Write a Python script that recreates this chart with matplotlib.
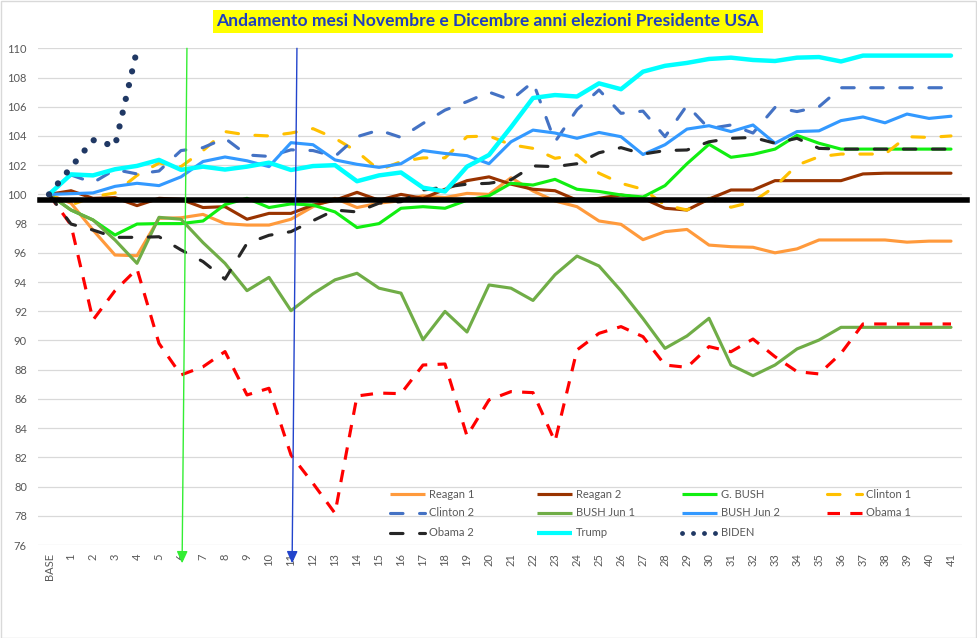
import matplotlib
matplotlib.use('Agg')
import matplotlib.pyplot as plt
from matplotlib.lines import Line2D
from matplotlib.patches import Rectangle
import numpy as np

# ---------------- data ----------------
categories = ['BASE'] + [str(i) for i in range(1, 42)]

reagan1 = [100, 99.4, 97.56, 95.85, 95.8, 98.36, 98.4, 98.63, 98.0, 97.9, 97.9, 98.3, 99.16, 99.73,
           99.1, 99.4, 99.57, 99.9, 99.78, 100.07, 100.0, 101.14, 100.23, 99.55, 99.16, 98.18, 97.95,
           96.9, 97.45, 97.6, 96.53, 96.42, 96.38, 96.0, 96.27, 96.88, 96.88, 96.88, 96.88, 96.73,
           96.8, 96.8]
reagan2 = [100, 100.25, 99.73, 99.78, 99.23, 99.73, 99.66, 99.1, 99.16, 98.3, 98.7, 98.7, 99.27, 99.6,
           100.14, 99.6, 100.0, 99.73, 100.35, 100.94, 101.2, 100.7, 100.35, 100.25, 99.6, 99.73,
           99.96, 99.73, 99.05, 98.93, 99.68, 100.3, 100.3, 100.94, 100.94, 100.94, 100.94, 101.4,
           101.45, 101.45, 101.45, 101.45]
g_bush = [100, 98.93, 98.25, 97.22, 97.97, 98.0, 98.0, 98.18, 99.3, 99.73, 99.1, 99.35, 99.27, 98.8,
          97.73, 98.0, 99.05, 99.16, 99.05, 99.6, 99.9, 100.76, 100.64, 101.03, 100.35, 100.2, 99.96,
          99.82, 100.6, 102.1, 103.43, 102.54, 102.74, 103.1, 104.04, 103.5, 103.1, 103.1, 103.1,
          103.1, 103.1, 103.1]
clinton1 = [100, 99.27, 99.84, 100.1, 101.3, 102.15, 101.9, 103.0, 104.3, 104.07, 104.0, 104.2, 104.5,
            103.84, 102.93, 101.67, 102.24, 102.5, 102.5, 103.95, 104.0, 103.4, 103.15, 102.47, 102.7,
            101.45, 100.76, 100.35, 99.27, 98.93, 99.73, 99.12, 99.5, 100.53, 102.0, 102.58, 102.76,
            102.76, 102.76, 103.95, 103.9, 104.0]
clinton2 = [100, 101.33, 100.8, 101.7, 101.4, 101.6, 103.0, 103.2, 103.84, 102.7, 102.6, 103.05, 103.0,
            102.6, 103.95, 104.4, 103.9, 104.86, 105.77, 106.35, 107.0, 106.46, 107.7, 103.6, 105.8,
            107.15, 105.55, 105.7, 103.95, 106.1, 104.5, 104.75, 104.2, 105.95, 105.67, 106.0, 107.3,
            107.3, 107.3, 107.3, 107.3, 107.3]
bush_jun1 = [100, 98.93, 98.25, 96.88, 95.28, 98.43, 98.3, 96.7, 95.28, 93.41, 94.32, 92.04, 93.2,
             94.15, 94.6, 93.58, 93.24, 90.05, 91.99, 90.58, 93.8, 93.58, 92.74, 94.5, 95.78, 95.1,
             93.4, 91.5, 89.46, 90.31, 91.52, 88.32, 87.59, 88.32, 89.42, 90.03, 90.9, 90.9, 90.9,
             90.9, 90.9, 90.9]
bush_jun2 = [100, 100.05, 100.1, 100.55, 100.76, 100.6, 101.2, 102.25, 102.56, 102.3, 101.9, 103.54,
             103.4, 102.36, 102.06, 101.85, 102.1, 103.0, 102.8, 102.65, 102.1, 103.6, 104.4, 104.2,
             103.84, 104.24, 103.95, 102.73, 103.4, 104.47, 104.7, 104.3, 104.75, 103.5, 104.3,
             104.35, 105.05, 105.3, 104.9, 105.5, 105.2, 105.35]
obama1 = [100, 97.9, 91.4, 93.41, 94.9, 89.8, 87.64, 88.2, 89.24, 86.27, 86.73, 82.16, 80.22, 78.17,
          86.2, 86.4, 86.36, 88.32, 88.39, 83.46, 85.93, 86.5, 86.43, 83.08, 89.35, 90.49, 90.95,
          90.26, 88.32, 88.16, 89.58, 89.23, 90.1, 88.89, 87.87, 87.71, 89.12, 91.13, 91.13, 91.13,
          91.13, 91.13]
obama2 = [100, 97.97, 97.56, 97.06, 97.06, 97.1, 96.2, 95.4, 94.2, 96.65, 97.2, 97.45, 98.2, 98.93,
          98.8, 99.4, 99.5, 100.3, 100.5, 100.7, 100.76, 101.0, 101.95, 101.9, 102.1, 102.85, 103.2,
          102.76, 103.0, 103.04, 103.6, 103.84, 103.9, 103.5, 103.84, 103.15, 103.1, 103.1, 103.1,
          103.1, 103.1, 103.1]
trump = [100, 101.37, 101.3, 101.72, 101.95, 102.36, 101.68, 101.9, 101.7, 101.9, 102.17, 101.67,
         101.94, 102.0, 100.9, 101.3, 101.5, 100.46, 100.2, 101.9, 102.7, 104.6, 106.6, 106.8, 106.7,
         107.6, 107.2, 108.4, 108.8, 109.0, 109.27, 109.36, 109.2, 109.13, 109.36, 109.4, 109.1,
         109.5, 109.5, 109.5, 109.5, 109.5]
biden = [100, 101.85, 103.72, 103.3, 109.9]

threshold = 99.6
green_arrow_cat = 6
blue_arrow_cat = 11
title = 'Andamento mesi Novembre e Dicembre anni elezioni Presidente USA'

# ---------------- styles ----------------
DASH = (0, (4, 5.3))
SHORTDASH = (0, (4, 3.3))
DOT = (0, (0.01, 2.25))
series = [
    ('Reagan 1', reagan1, '#FF9A3C', 2.25, '-', 'round'),
    ('Reagan 2', reagan2, '#993300', 2.25, '-', 'round'),
    ('G. BUSH', g_bush, '#11EE11', 2.25, '-', 'round'),
    ('Clinton 1', clinton1, '#FFC000', 2.25, DASH, 'round'),
    ('Clinton 2', clinton2, '#4472C4', 2.25, DASH, 'round'),
    ('BUSH Jun 1', bush_jun1, '#70AD47', 2.25, '-', 'round'),
    ('BUSH Jun 2', bush_jun2, '#3399FF', 2.25, '-', 'round'),
    ('Obama 1', obama1, '#FF0000', 2.25, SHORTDASH, 'butt'),
    ('Obama 2', obama2, '#262626', 2.25, DASH, 'round'),
    ('Trump', trump, '#00FFFF', 3.2, '-', 'round'),
    ('BIDEN', biden, '#203864', 4.5, DOT, 'round'),
]

W, H = 977, 638
fig = plt.figure(figsize=(W / 100, H / 100), dpi=100)
fig.patch.set_facecolor('white')
ax = fig.add_axes([38 / W, 1 - 545 / H, 924 / W, (545 - 48.3) / H])

x = np.arange(len(categories))
for name, vals, color, lw, ls, cap in series:
    ax.plot(x[:len(vals)], vals, color=color, lw=lw, linestyle=ls,
            dash_capstyle=cap, solid_capstyle='round', solid_joinstyle='round',
            dash_joinstyle='round', zorder=3)

ax.axhline(threshold, xmin=0.002, xmax=1.0054, color='black', lw=4.0, zorder=5, clip_on=False)

ax.set_xlim(-0.5, len(categories) - 0.5)
ax.set_ylim(76, 110)
ax.set_yticks(np.arange(76, 111, 2))
ax.set_xticks(x)
ax.set_xticklabels(categories, rotation=90, va='top', ha='center')
ax.yaxis.grid(True, color='#D9D9D9', lw=0.9, zorder=0)
ax.set_axisbelow(True)
for s in ax.spines.values():
    s.set_visible(False)
ax.tick_params(axis='both', length=0, labelcolor='#595959', labelsize=8)
ax.tick_params(axis='y', pad=8)
ax.tick_params(axis='x', pad=6)
for lab in ax.get_xticklabels() + ax.get_yticklabels():
    lab.set_family('Lato')

# arrows
ax.annotate('', xy=(green_arrow_cat + 0.05, 74.75), xytext=(green_arrow_cat + 0.27, 110.0),
            arrowprops=dict(arrowstyle='-|>,head_length=0.55,head_width=0.25', color='#33EE33',
                            lw=1.0, shrinkA=0, shrinkB=0, mutation_scale=13),
            annotation_clip=False, zorder=6)
ax.annotate('', xy=(blue_arrow_cat + 0.05, 74.75), xytext=(blue_arrow_cat + 0.27, 110.0),
            arrowprops=dict(arrowstyle='-|>,head_length=0.55,head_width=0.25', color='#2244CC',
                            lw=1.0, shrinkA=0, shrinkB=0, mutation_scale=13),
            annotation_clip=False, zorder=6)

# legend (manual, 4 columns, row-major like Excel)
col_x = [390, 537, 682, 827]
row_y = [494, 513, 533]
for k, (name, vals, color, lw, ls, cap) in enumerate(series):
    r, c = divmod(k, 4)
    px, py = col_x[c], row_y[r]
    llw = min(lw, 3.0) if name != 'BIDEN' else 3.5
    ln = Line2D([px / W, (px + 35) / W], [1 - py / H, 1 - py / H], transform=fig.transFigure,
                color=color, lw=llw, linestyle=ls, dash_capstyle=cap, solid_capstyle='butt')
    fig.add_artist(ln)
    fig.text((px + 39) / W, 1 - py / H, name, ha='left', va='center', fontsize=8,
             color='#595959', family='Lato')

# title
fig.text(488 / W, 1 - 21.5 / H, title, ha='center', va='center', fontsize=12.6,
         fontweight='bold', color='#1F3FBF', family='Lato',
         bbox=dict(facecolor='#FFFF00', edgecolor='none', boxstyle='square,pad=0.2'))

# chart border
fig.add_artist(Rectangle((0.5 / W, 0.5 / H), (W - 2) / W, (H - 1.5) / H, transform=fig.transFigure,
                         fill=False, edgecolor='#D9D9D9', lw=1.0))

fig.savefig('out.png', dpi=100)
